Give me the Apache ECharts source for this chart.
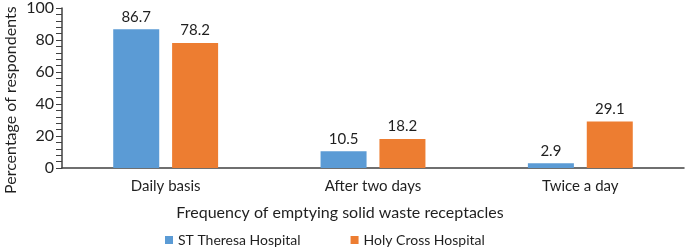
<!DOCTYPE html>
<html>
<head>
<meta charset="utf-8">
<script src="https://cdn.jsdelivr.net/npm/echarts@6/dist/echarts.min.js"></script>
<style>
  html, body { margin: 0; padding: 0; background: #fff; }
  #chart { width: 685px; height: 249px; }
</style>
</head>
<body>
<div id="chart"></div>
<script>
const categories = ['Daily basis', 'After two days', 'Twice a day'];
const stTheresa = [86.7, 10.5, 2.9];
const holyCross = [78.2, 18.2, 29.1];
const seriesNames = ['ST Theresa Hospital', 'Holy Cross Hospital'];

const FONT = 'Lato';
const textColor = '#1f1f1f';

const chart = echarts.init(document.getElementById('chart'));

const labelStyle = {
  show: true,
  position: 'top',
  distance: 5,
  color: textColor,
  fontFamily: FONT,
  fontSize: 15
};

chart.setOption({
  animation: false,
  grid: { left: 62, right: 1, top: 6, bottom: 81 },
  legend: {
    data: seriesNames,
    left: 165,
    top: 233,
    padding: 0,
    itemWidth: 8,
    itemHeight: 8,
    itemGap: 50,
    icon: 'rect',
    textStyle: { color: textColor, fontFamily: FONT, fontSize: 14 }
  },
  xAxis: {
    type: 'category',
    data: categories,
    axisLine: { lineStyle: { color: '#404040', width: 1.5 } },
    axisTick: { show: false },
    axisLabel: { color: textColor, fontFamily: FONT, fontSize: 15, margin: 11 },
    name: 'Frequency of emptying solid waste receptacles',
    nameLocation: 'middle',
    nameGap: 37,
    nameTextStyle: { color: textColor, fontFamily: FONT, fontSize: 16, padding: [0, 66, 0, 0] }
  },
  yAxis: {
    type: 'value',
    min: 0,
    max: 100,
    interval: 20,
    splitLine: { show: false },
    axisLine: { show: true, lineStyle: { color: '#404040', width: 1.5 } },
    axisTick: { show: true, length: 6, lineStyle: { color: '#404040' } },
    minorTick: { show: true, splitNumber: 5, length: 6, lineStyle: { color: '#404040' } },
    axisLabel: { color: textColor, fontFamily: FONT, fontSize: 16, margin: 8 }
  },
  graphic: [{
    type: 'text',
    rotation: Math.PI / 2,
    x: 3,
    y: 194,
    style: {
      text: 'Percentage of respondents',
      fill: textColor,
      font: '16px Lato'
    }
  }],
  series: [
    {
      name: seriesNames[0],
      type: 'bar',
      data: stTheresa,
      barWidth: 46,
      barGap: '28%',
      itemStyle: { color: '#5B9BD5' },
      label: labelStyle
    },
    {
      name: seriesNames[1],
      type: 'bar',
      data: holyCross,
      barWidth: 46,
      itemStyle: { color: '#ED7D31' },
      label: labelStyle
    }
  ]
});
</script>
</body>
</html>
